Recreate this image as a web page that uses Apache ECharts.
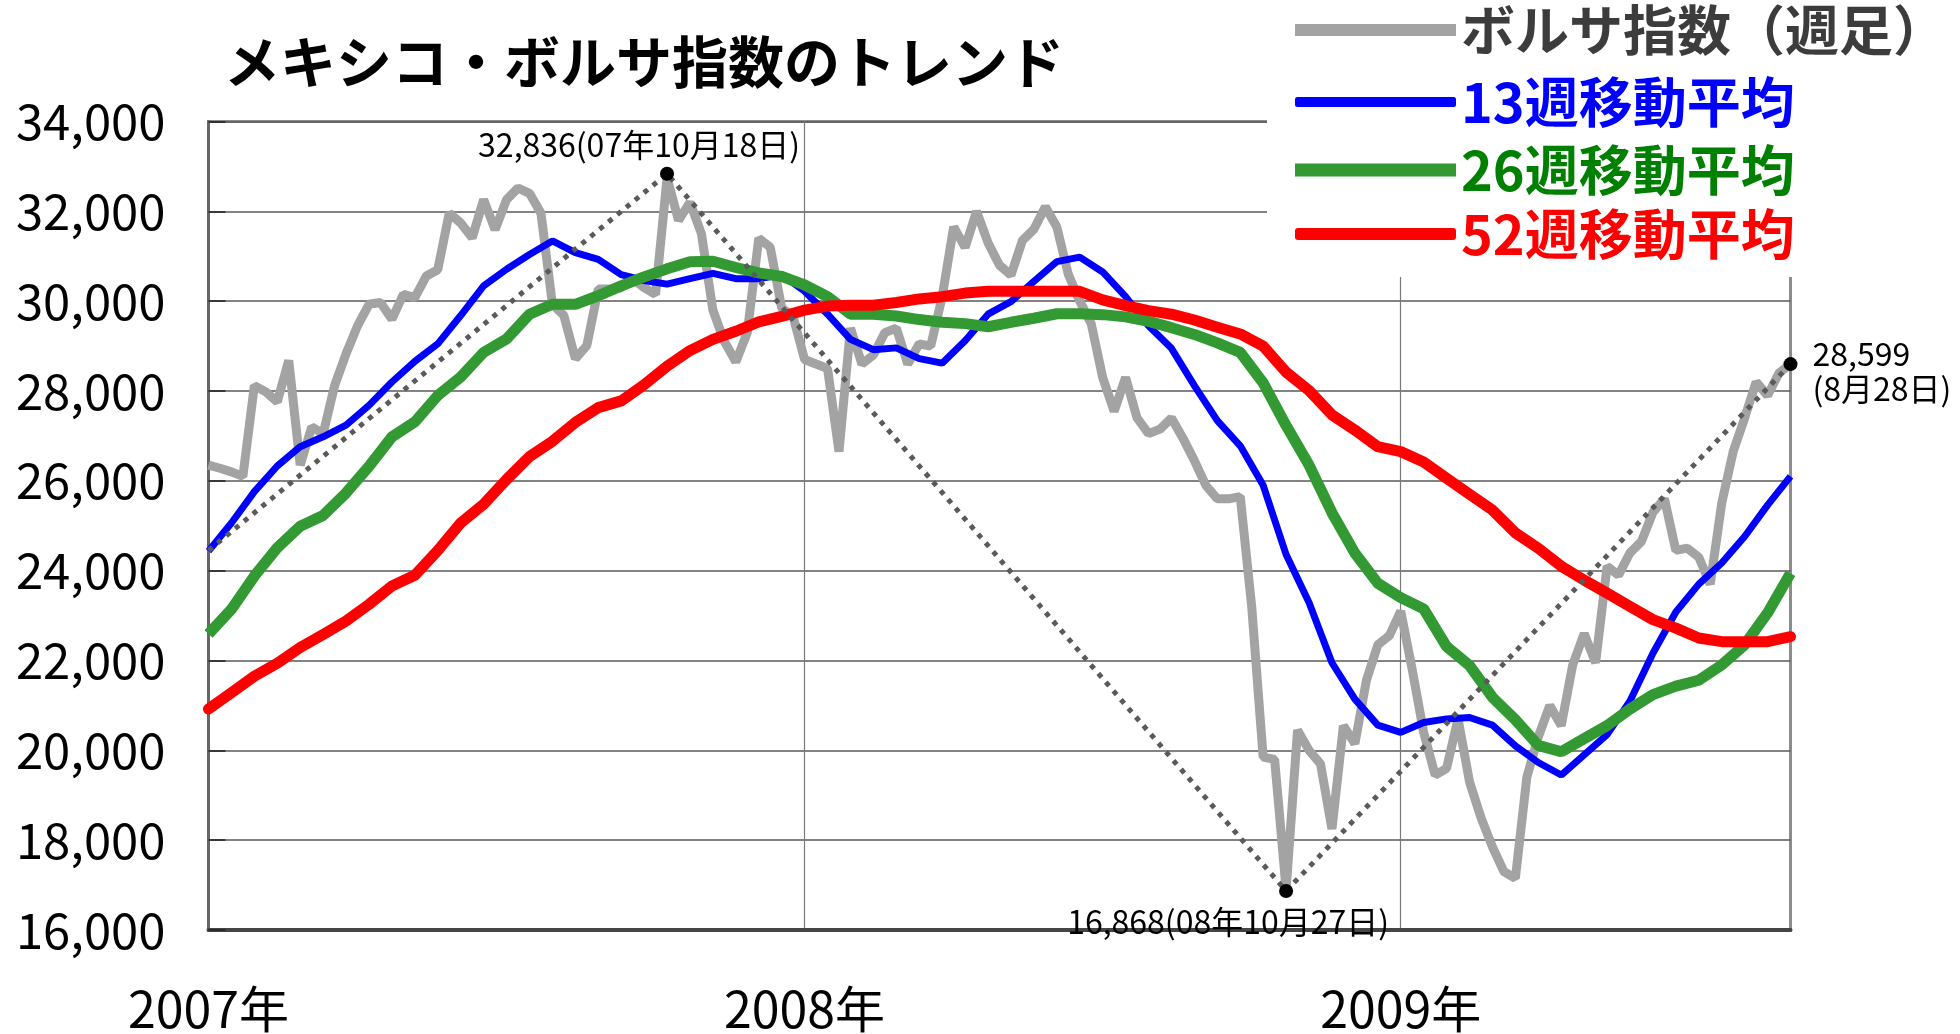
<!DOCTYPE html>
<html><head><meta charset="utf-8">
<script src="https://cdn.jsdelivr.net/npm/echarts@6/dist/echarts.min.js"></script>
<style>html,body{margin:0;padding:0;background:#fff}#c{width:1960px;height:1034px}</style>
</head><body><div id="c"></div>
<script>
// ---- data ----
const firstWeek = '2007-01-05';   // weekly closes (Fridays)
const weekCount = 139;
const yearLabels = ['2007年', '2008年', '2009年'];
const yearStartIdx = [0, 52, 104];
const seriesNames = ['ボルサ指数（週足）', '13週移動平均', '26週移動平均', '52週移動平均'];
const titleText = 'メキシコ・ボルサ指数のトレンド';

const bolsa = [
  26350,26280,26200,26100,28120,27980,27760,28680,26350,27200,
  27050,28120,28830,29450,29930,29970,29600,30150,30080,30560,
  30700,31960,31740,31410,32260,31590,32260,32520,32400,31960,
  29930,29680,28720,29010,30270,30270,30300,30500,30300,30150,
  32750,31800,32200,31500,29800,29100,28650,29300,31400,31200,
  29850,29650,28700,28600,28500,26650,29400,28600,28800,29300,
  29400,28600,29050,29000,30100,31650,31200,32000,31300,30800,
  30580,31350,31600,32100,31650,30600,30000,29500,28300,27550,
  28300,27400,27050,27150,27400,26950,26450,25900,25600,25600,
  25650,23200,19850,19800,16900,20450,20000,19700,18250,20550,
  20150,21550,22350,22550,23100,21800,20400,19450,19600,20700,
  19300,18500,17850,17300,17150,19400,20300,21000,20550,21900,
  22600,21950,24100,23900,24400,24650,25300,25600,24450,24500,
  24300,23700,25500,26650,27400,28200,27900,28400,28600
];
// moving averages read every 2nd week
const maStep = 2;
const ma13 = [
  24435,25060,25760,26330,26760,26980,27240,27680,28200,28660,
  29050,29680,30340,30710,31040,31340,31080,30930,30590,30460,
  30380,30500,30620,30500,30500,30590,30220,29710,29150,28920,
  28960,28720,28620,29120,29710,29990,30440,30880,30980,30650,
  30100,29450,28950,28120,27340,26780,25900,24360,23290,21950,
  21140,20560,20400,20620,20700,20730,20560,20100,19730,19450,
  19900,20350,21100,22160,23080,23700,24170,24760,25460,26100
];
const ma26 = [
  22590,23140,23880,24510,24990,25230,25730,26320,26980,27310,
  27900,28310,28860,29160,29710,29930,29930,30120,30340,30540,
  30720,30880,30890,30750,30630,30550,30360,30100,29710,29710,
  29670,29590,29530,29500,29430,29530,29620,29720,29720,29700,
  29650,29550,29410,29260,29070,28860,28180,27230,26350,25290,
  24390,23720,23400,23150,22310,21890,21180,20680,20110,19970,
  20260,20550,20920,21240,21430,21560,21900,22350,23060,23940
];
const ma52 = [
  20920,21280,21650,21940,22290,22580,22880,23250,23660,23900,
  24450,25060,25480,26030,26540,26880,27300,27630,27780,28140,
  28550,28900,29150,29330,29540,29660,29800,29890,29910,29910,
  29970,30050,30100,30180,30220,30220,30220,30220,30220,30030,
  29900,29790,29710,29580,29420,29270,29000,28420,28010,27470,
  27130,26760,26650,26420,26060,25700,25350,24840,24500,24100,
  23790,23500,23200,22910,22720,22500,22420,22420,22420,22530
];
// dotted trend through the extremes
const trendIdx = [0, 40, 94, 138];
const trendVal = [24450, 32836, 16868, 28599];
// marked points
const markIdx = [40, 94, 138];
const markVal = [32836, 16868, 28599];
const markText = ['32,836(07年10月18日)', '16,868(08年10月27日)', '28,599\n(8月28日)'];
const yMin = 16000, yMax = 34000, yStep = 2000;

// ---- build ----
const categories = [];
{
  const t0 = Date.UTC(2007, 0, 5);
  for (let i = 0; i < weekCount; i++) {
    const d = new Date(t0 + i * 7 * 86400000);
    categories.push(d.toISOString().slice(0, 10));
  }
}
function expand(step, arr) {
  const out = new Array(weekCount).fill(null);
  arr.forEach((v, i) => { out[i * step] = v; });
  return out;
}
function sparse(idx, vals) {
  const out = new Array(weekCount).fill(null);
  idx.forEach((k, i) => { out[k] = vals[i]; });
  return out;
}
const colors = ['#a3a3a3', '#0000ff', '#339933', '#ff0000'];
const textColors = ['#3c3c3c', '#0000ff', '#008000', '#ff0000'];
const FONT = "'Noto Sans CJK JP', 'Noto Sans', sans-serif";

const legendRows = [30, 102, 170, 234];
const legendIconH = [12, 10, 13, 12];
const legendIcon = ['rect', 'roundRect', 'rect', 'roundRect'];
const legends = seriesNames.map((n, i) => ({
  show: true, selectedMode: false, z: 200, padding: 0,
  left: 1295, top: legendRows[i] - 27,
  itemWidth: 161, itemHeight: legendIconH[i],
  data: [{ name: n, icon: legendIcon[i], itemStyle: { color: colors[i], borderWidth: 0 } }],
  textStyle: { fontFamily: FONT, fontSize: 54, fontWeight: 'bold', color: textColors[i] }
}));

const labelOffsets = [[-28, -29], [-58, 31], [22, 7]];
const labelAlign = ['center', 'center', 'left'];

const option = {
  animation: false,
  backgroundColor: '#fff',
  textStyle: { fontFamily: FONT },
  title: {
    text: titleText, left: 219, top: 29,
    textStyle: { fontFamily: FONT, fontSize: 56, fontWeight: 'bold', color: '#000' }
  },
  legend: legends,
  graphic: [{
    type: 'rect', z: 100,
    shape: { x: 1267, y: 0, width: 693, height: 277 },
    style: { fill: '#fff' }
  }],
  grid: {
    left: 208.5, right: 169.5, top: 121.5, bottom: 100,
    show: true, borderColor: '#8c8c8c', borderWidth: 3, backgroundColor: 'transparent'
  },
  xAxis: {
    type: 'category', data: categories, boundaryGap: false,
    axisLine: { show: true, lineStyle: { color: '#454545', width: 4 } },
    axisTick: { show: false },
    axisLabel: {
      interval: (i) => yearStartIdx.includes(i),
      formatter: (v, i) => { const k = yearStartIdx.indexOf(i); return k >= 0 ? yearLabels[k] : ''; },
      fontFamily: FONT, fontSize: 50, color: '#000', margin: 54
    },
    splitLine: {
      show: true, interval: (i) => yearStartIdx.includes(i),
      lineStyle: { color: '#7a7a7a', width: 1.2 }
    }
  },
  yAxis: {
    type: 'value', min: yMin, max: yMax, interval: yStep,
    axisLine: { show: true, lineStyle: { color: '#666', width: 3 } },
    axisTick: { show: true, inside: true, length: 17, lineStyle: { color: '#222', width: 1.5 } },
    axisLabel: {
      formatter: (v) => v.toLocaleString('en-US'),
      fontFamily: FONT, fontSize: 49, color: '#000', margin: 43
    },
    splitLine: { show: true, lineStyle: { color: '#5a5a5a', width: 1.5 } }
  },
  series: [
    { name: seriesNames[0], type: 'line', data: bolsa, symbol: 'none', z: 2,
      color: colors[0], lineStyle: { color: colors[0], width: 9 } },
    { name: seriesNames[1], type: 'line', data: expand(maStep, ma13), connectNulls: true, symbol: 'none', z: 3,
      color: colors[1], lineStyle: { color: colors[1], width: 7 } },
    { name: seriesNames[2], type: 'line', data: expand(maStep, ma26), connectNulls: true, symbol: 'none', z: 4,
      color: colors[2], lineStyle: { color: colors[2], width: 11 } },
    { name: seriesNames[3], type: 'line', data: expand(maStep, ma52), connectNulls: true, symbol: 'none', z: 5,
      color: colors[3], lineStyle: { color: colors[3], width: 11, cap: 'round', join: 'round' } },
    { name: 'trend', type: 'line', data: sparse(trendIdx, trendVal), connectNulls: true, symbol: 'none', z: 6,
      silent: true, lineStyle: { color: '#5a5a5a', width: 5, type: [5, 6.5] } },
    { name: 'marks', type: 'scatter', z: 7, symbol: 'circle', symbolSize: 14,
      itemStyle: { color: '#000', opacity: 1 },
      data: markIdx.map((k, i) => ({
        value: [k, markVal[i]],
        label: {
          show: true, formatter: markText[i], position: 'inside',
          offset: labelOffsets[i], align: labelAlign[i], verticalAlign: 'middle',
          fontFamily: FONT, fontSize: 32, lineHeight: 35, color: '#000'
        }
      }))
    }
  ]
};
const chart = echarts.init(document.getElementById('c'), null, { renderer: 'canvas' });
chart.setOption(option);
</script>
</body></html>
